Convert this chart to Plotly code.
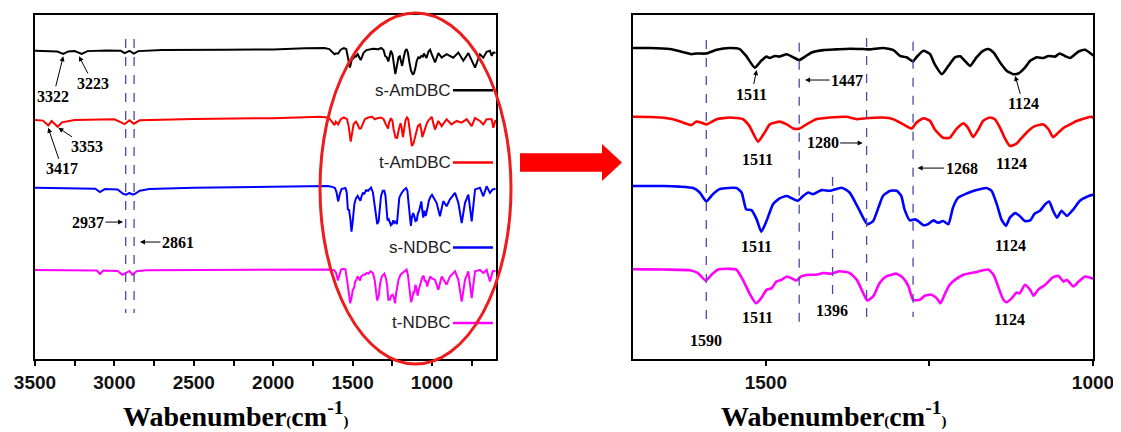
import plotly.graph_objects as go

# page window is 1121x432; the browser body adds an 8 px margin, so the figure is shifted by it
W, H = 1121, 432
OFF = 8
FW, FH = W - OFF, H - OFF


def fx(px):  # screen pixel -> paper x
    return (px - OFF) / FW


def fy(py):  # screen pixel -> paper y
    return 1 - (py - OFF) / FH


# ---------------- data (wavenumber cm-1, offset transmittance a.u.) ----------------
s_am_w = [3500, 3420, 3360, 3322, 3290, 3250, 3206, 3170, 3050, 2960, 2935, 2905, 2878, 2850, 2700, 2300, 2000, 1800,
          1703, 1677, 1647, 1624, 1614, 1606, 1591, 1575, 1555, 1540, 1530, 1517, 1507, 1499, 1494, 1486, 1479, 1468,
          1458, 1449, 1440, 1430, 1412, 1392, 1372, 1351, 1341, 1321, 1305, 1295, 1285, 1275, 1270, 1259, 1249, 1242,
          1231, 1221, 1211, 1203, 1196, 1188, 1178, 1168, 1160, 1152, 1142, 1132, 1122, 1114, 1104, 1096, 1086, 1076,
          1068, 1058, 1051, 1043, 1035, 1022, 1012, 1002,
          981, 960, 939, 908, 866, 834, 803, 771, 729, 698, 677, 656, 635, 624, 614, 600]
s_am_t = [89.6, 89.5, 89.4, 88.7, 89.4, 89.5, 88.7, 89.5, 89.7, 89.6, 88.9, 89.6, 88.8, 89.5, 89.8, 89.9, 90.0, 90.3,
          90.4, 90.4, 90.1, 89.1, 88.6, 88.8, 88.8, 89.9, 90.4, 90.1, 88.1, 84.7, 86.7, 87.9, 87.5, 88.1, 87.9, 88.6,
          87.7, 86.9, 87.9, 89.1, 89.8, 90.0, 90.2, 90.1, 90.0, 90.4, 89.8, 88.1, 87.7, 86.5, 87.7, 89.6, 88.6, 85.7,
          82.8, 85.2, 87.7, 88.0, 86.7, 85.2, 87.7, 89.6, 90.1, 89.1, 86.2, 83.8, 82.8, 83.0, 84.7, 86.7, 87.7, 87.5,
          88.1, 87.9, 88.8, 88.1, 87.5, 89.4, 89.9, 88.6,
          86.2, 88.9, 87.6, 88.6, 87.6, 89.1, 86.7, 88.9, 84.7, 88.6, 87.6, 89.3, 89.6, 88.1, 89.1, 89.0]

t_am_w = [3500, 3450, 3416, 3395, 3357, 3330, 3250, 3000, 2935, 2905, 2878, 2840, 2500, 2000,
          1703, 1662, 1642, 1626, 1614, 1606, 1598, 1591, 1575, 1555, 1535, 1525, 1512, 1502, 1494, 1486, 1479, 1468,
          1458, 1448, 1438, 1423, 1402, 1377, 1361, 1351, 1321, 1305, 1290, 1277, 1270, 1259, 1249, 1242, 1229, 1219,
          1209, 1198, 1191, 1183, 1175, 1168, 1158, 1150, 1142, 1135, 1127, 1117, 1109, 1099, 1089, 1076, 1068, 1061,
          1053, 1045, 1035, 1025, 1012, 1002,
          990, 981, 960, 939, 908, 877, 845, 813, 782, 750, 729, 698, 677, 656, 624, 614, 600]
t_am_t = [69.5, 69.3, 67.9, 69.2, 67.5, 68.8, 69.5, 69.7, 68.3, 69.4, 68.4, 69.4, 69.8, 70.0,
          70.4, 70.2, 69.7, 68.7, 68.0, 69.0, 68.7, 68.2, 69.7, 70.2, 69.7, 67.7, 63.2, 65.8, 68.2, 68.7, 69.0, 68.2,
          67.0, 67.0, 68.2, 69.7, 70.2, 70.4, 69.7, 69.9, 70.2, 69.7, 68.2, 67.0, 68.7, 70.0, 69.2, 66.8, 64.3, 64.3,
          66.8, 68.5, 67.2, 64.5, 66.8, 69.2, 70.2, 69.7, 67.2, 64.3, 61.9, 62.6, 64.3, 66.3, 67.7, 68.2, 66.8, 64.5,
          65.8, 67.2, 68.2, 69.2, 70.0, 70.4,
          68.2, 66.7, 69.2, 67.7, 69.7, 68.2, 69.2, 68.7, 69.7, 67.7, 70.1, 69.2, 68.2, 69.7, 69.7, 67.2, 69.5]

s_n_w = [3500, 3200, 3120, 3091, 3060, 2980, 2945, 2925, 2905, 2885, 2870, 2840, 2780, 2500, 2000,
         1703, 1657, 1632, 1611, 1601, 1591, 1581, 1570, 1545, 1537, 1530, 1522, 1514, 1507, 1499, 1489, 1479, 1468,
         1458, 1451, 1443, 1435, 1428, 1415, 1402, 1384, 1372, 1359, 1345, 1336, 1328, 1321, 1310, 1300, 1293, 1288,
         1280, 1272, 1267, 1259, 1252, 1244, 1237, 1229, 1221, 1214, 1206, 1193, 1178, 1163, 1155, 1147, 1140, 1133,
         1127, 1119, 1112, 1104, 1096, 1089, 1081, 1073, 1067, 1061, 1055, 1048, 1040, 1030, 1020, 1010, 1000,
         971, 950, 929, 908, 887, 855, 834, 813, 792, 771, 750, 729, 698, 677, 656, 635, 618, 600]
s_n_t = [49.8, 49.7, 49.5, 48.5, 49.4, 49.3, 48.0, 47.8, 48.3, 47.8, 48.0, 48.9, 49.4, 49.8, 50.0,
         50.3, 50.3, 50.1, 49.7, 48.4, 45.8, 47.9, 49.4, 49.7, 48.4, 43.5, 43.3, 40.6, 37.0, 40.1, 45.0, 46.7, 47.4,
         46.5, 46.0, 47.4, 48.4, 47.9, 49.1, 48.9, 49.8, 48.4, 44.0, 39.2, 40.1, 44.0, 47.4, 48.9, 48.9, 47.4, 43.5,
         40.3, 40.6, 40.1, 38.9, 39.2, 40.3, 39.6, 40.1, 39.2, 44.0, 46.9, 48.1, 49.1, 49.7, 48.9, 45.0, 40.6, 38.7,
         41.1, 42.4, 41.6, 40.1, 40.3, 42.3, 43.1, 45.0, 45.8, 43.1, 41.1, 43.1, 41.6, 43.5, 46.0, 47.1, 47.7,
         45.4, 41.5, 45.9, 44.4, 46.4, 48.3, 45.4, 39.5, 45.4, 47.8, 40.0, 49.3, 49.8, 47.3, 50.2, 48.3, 49.3, 49.5]

t_n_w = [3500, 3150, 3110, 3091, 3070, 2980, 2950, 2920, 2905, 2887, 2860, 2800, 2000,
         1703, 1657, 1616, 1604, 1592, 1583, 1573, 1555, 1545, 1535, 1525, 1515, 1507, 1499, 1491, 1484, 1476, 1468,
         1461, 1453, 1446, 1433, 1423, 1412, 1400, 1387, 1372, 1361, 1351, 1345, 1336, 1326, 1316, 1300, 1290, 1282,
         1275, 1265, 1257, 1247, 1239, 1233, 1226, 1219, 1211, 1198, 1178, 1160, 1152, 1145, 1137, 1132, 1124, 1117,
         1112, 1104, 1096, 1091, 1084, 1073, 1061, 1053, 1045, 1040, 1030, 1022, 1012, 1002,
         981, 960, 939, 908, 887, 855, 834, 813, 792, 771, 750, 729, 698, 677, 656, 635, 618, 600]
t_n_t = [25.9, 25.9, 25.7, 24.7, 25.7, 25.6, 24.5, 25.2, 25.6, 24.5, 25.5, 25.8, 26.0,
         26.1, 26.0, 25.8, 25.0, 22.8, 24.5, 26.0, 26.2, 26.0, 23.0, 19.1, 16.2, 17.7, 20.1, 20.6, 22.5, 23.0, 24.0,
         23.5, 22.8, 24.0, 24.5, 24.5, 25.0, 24.8, 25.5, 25.0, 23.0, 19.1, 17.0, 18.2, 22.1, 24.0, 24.8, 23.5, 21.1,
         17.2, 17.2, 18.4, 18.7, 17.7, 16.2, 19.1, 21.6, 23.0, 24.5, 25.3, 26.0, 24.5, 21.1, 17.2, 16.5, 17.7, 19.3,
         19.1, 21.6, 20.1, 18.4, 20.1, 21.6, 23.8, 24.2, 22.5, 23.0, 21.1, 22.5, 24.0, 23.5,
         23.0, 20.1, 24.0, 21.6, 24.0, 25.5, 23.0, 16.7, 23.0, 25.5, 17.7, 25.5, 25.9, 25.0, 25.9, 22.5, 25.5, 25.6]

series_names = ["s-AmDBC", "t-AmDBC", "s-NDBC", "t-NDBC"]
series_w = [s_am_w, t_am_w, s_n_w, t_n_w]
series_t = [s_am_t, t_am_t, s_n_t, t_n_t]
series_colors = ["#000000", "#ff0000", "#0000ff", "#ff00ff"]
legend_y = [78.1, 57.1, 32.4, 10.5]

# marked band positions (as drawn)
left_marks = [2929, 2876]
right_marks = [(1591, 92.7, 9.0), (1449, 91.9, 9.0), (1346, 93.3, 10.5), (1275, 92.2, 12.2), (1398, 52.9, 17.7)]

fig = go.Figure()
for name, wv, tv, col in zip(series_names, series_w, series_t, series_colors):
    fig.add_trace(go.Scatter(x=wv, y=tv, mode="lines", name=name, xaxis="x", yaxis="y",
                             line=dict(color=col, width=2), showlegend=False))
    fig.add_trace(go.Scatter(x=wv, y=tv, mode="lines", name=name, xaxis="x2", yaxis="y2",
                             line=dict(color=col, width=2.6, shape="spline", smoothing=0.5), showlegend=False))

ydom = [fy(359), fy(15)]
axis_common = dict(showline=True, mirror=True, linecolor="black", linewidth=2, showgrid=False,
                   zeroline=False, automargin=False)
tick_font = dict(family="Liberation Sans", size=19, color="#111", weight="bold")
minor_ticks = dict(dtick=250, ticks="outside", ticklen=5, tickwidth=1.5, tickcolor="black", showgrid=False)
fig.update_layout(
    width=FW, height=FH, margin=dict(l=0, r=0, t=0, b=0, autoexpand=False),
    paper_bgcolor="white", plot_bgcolor="white", showlegend=False,
    xaxis=dict(domain=[fx(35), fx(496)], range=[3500, 597], anchor="y",
               tickmode="linear", tick0=0, dtick=500, minor=minor_ticks,
               ticks="outside", ticklen=5, tickwidth=1.5, tickcolor="black",
               tickfont=tick_font, **axis_common),
    yaxis=dict(domain=ydom, range=[0, 100], anchor="x", showticklabels=False, ticks="", **axis_common),
    xaxis2=dict(domain=[fx(633), fx(1093)], range=[1703, 1000], anchor="y2",
                tickmode="linear", tick0=0, dtick=500, minor=minor_ticks,
                ticks="outside", ticklen=5, tickwidth=1.5, tickcolor="black",
                tickfont=tick_font, **axis_common),
    yaxis2=dict(domain=ydom, range=[0, 100], anchor="x2", showticklabels=False, ticks="", **axis_common),
)

shapes = []
dash_col = "#4a4aa8"
for m in left_marks:
    shapes.append(dict(type="line", xref="x", yref="y", x0=m, x1=m, y0=93.0, y1=13.4,
                       line=dict(color=dash_col, width=1.3, dash="dash")))
for m, ya, yb in right_marks:
    shapes.append(dict(type="line", xref="x2", yref="y2", x0=m, x1=m, y0=ya, y1=yb,
                       line=dict(color=dash_col, width=1.3, dash="dash")))
# pseudo-legend line segments
for ly, col in zip(legend_y, series_colors):
    shapes.append(dict(type="line", xref="x", yref="y", x0=868, x1=616, y0=ly, y1=ly,
                       line=dict(color=col, width=2.5)))
# red ellipse
shapes.append(dict(type="circle", xref="paper", yref="paper",
                   x0=fx(320), x1=fx(511), y0=fy(364), y1=fy(13),
                   line=dict(color="#ee1c1c", width=3)))
# red block arrow
pts = [(520, 153.3), (602, 153.3), (602, 144), (622, 162.5), (602, 181), (602, 171.7), (520, 171.7)]
path = "M " + " L ".join(f"{fx(px):.5f},{fy(py):.5f}" for px, py in pts) + " Z"
shapes.append(dict(type="path", xref="paper", yref="paper", path=path,
                   fillcolor="#ff0000", line=dict(color="#ff0000", width=0)))
fig.update_layout(shapes=shapes)

ann = []
lab_font = dict(family="Liberation Serif", size=16, color="black", weight="bold")
for name, ly in zip(series_names, legend_y):
    ann.append(dict(xref="x", yref="y", x=868, y=ly, text=name, showarrow=False, xanchor="right",
                    yanchor="middle", font=dict(family="Liberation Sans", size=17, color="#222")))

# (label, axis, x, y, ax, ay)  arrow labels
arrow_labels = [
    ("3322", "x", 3322, 88.0, -10, 40), ("3223", "x", 3223, 88.0, 14, 27),
    ("3353", "x", 3353, 67.2, 29, 19), ("3417", "x", 3417, 67.2, 14, 41),
    ("2937", "x", 2946, 39.8, -35, 0), ("2861", "x", 2839, 34.0, 38, 0),
    ("1511", "x2", 1514, 84.0, -5, 24), ("1447", "x2", 1440, 81.1, 42, 0),
    ("1124", "x2", 1119, 82.3, 8, 28), ("1280", "x2", 1352, 62.8, -40, 0),
    ("1268", "x2", 1268, 55.5, 44, 0),
]
for t, xr, xv, yv, axv, ayv in arrow_labels:
    yr = "y" if xr == "x" else "y2"
    ann.append(dict(xref=xr, yref=yr, x=xv, y=yv, text=t, showarrow=True, ax=axv, ay=ayv,
                    arrowhead=2, arrowsize=1, arrowwidth=1, arrowcolor="black", standoff=0,
                    font=lab_font))
# plain labels
plain_labels = [
    ("1511", 1512, 58.1), ("1124", 1124, 56.7), ("1511", 1514, 32.8), ("1124", 1126, 33.1),
    ("1396", 1398.6, 14.0), ("1511", 1512, 12.2), ("1124", 1128, 11.6), ("1590", 1591, 5.5),
]
for t, xv, yv in plain_labels:
    ann.append(dict(xref="x2", yref="y2", x=xv, y=yv, text=t, showarrow=False, font=lab_font))

title_txt = ("<b>Wabenumber</b><span style='font-size:15px'><b>(</b></span><b>cm<sup>-1</sup></b>"
             "<span style='font-size:15px'><b>)</b></span>")
for cx in (235, 833):
    ann.append(dict(xref="paper", yref="paper", x=fx(cx), y=fy(414), text=title_txt, showarrow=False,
                    xanchor="center", yanchor="middle",
                    font=dict(family="Liberation Serif", size=28, color="black")))
fig.update_layout(annotations=ann)

fig.write_html("out.html")
